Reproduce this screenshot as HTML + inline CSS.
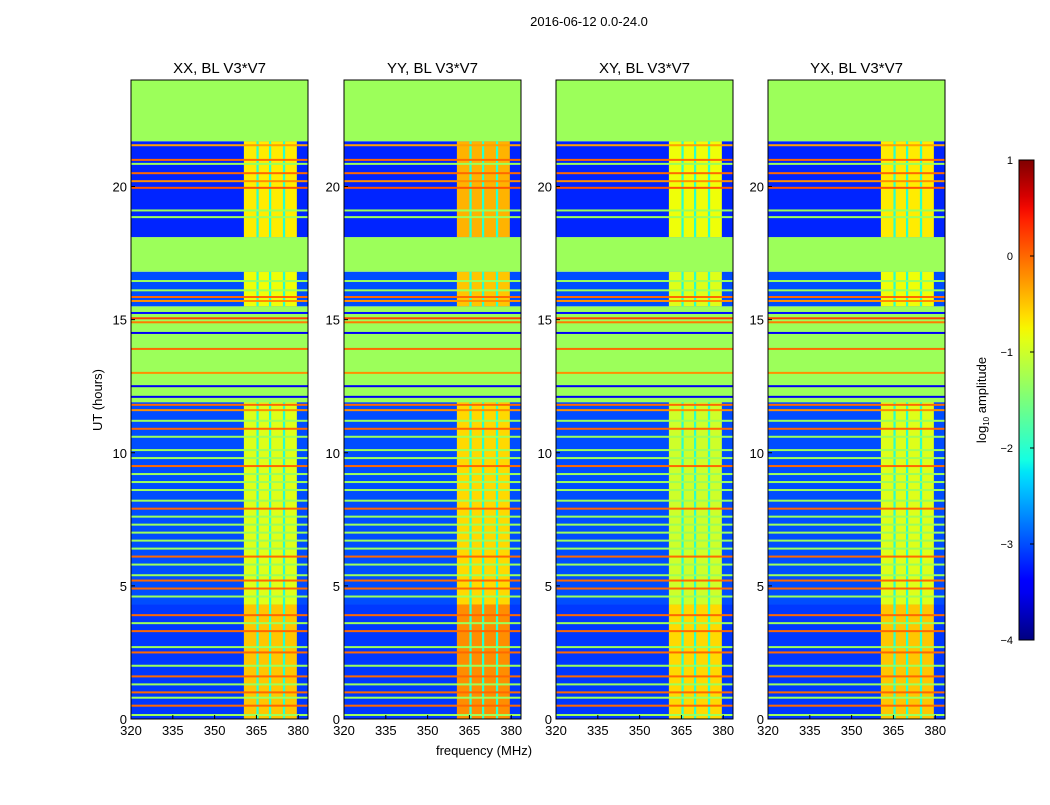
<!DOCTYPE html>
<html><head><meta charset="utf-8"><style>
body{margin:0;background:#fff;font-family:"Liberation Sans",sans-serif;}
svg text{font-family:"Liberation Sans",sans-serif;fill:#000}
</style></head><body>
<svg id="fig" width="1050" height="800" xmlns="http://www.w3.org/2000/svg">
<text x="589" y="26" font-size="13" text-anchor="middle">2016-06-12 0.0-24.0</text>
<text x="484" y="755" font-size="13" text-anchor="middle">frequency (MHz)</text>
<text x="102" y="400" font-size="13" text-anchor="middle" transform="rotate(-90 102 400)">UT (hours)</text>
<g id="panels"></g>
<g id="cbar"></g>
</svg>
<script>
const panelNames = ["XX, BL V3*V7","YY, BL V3*V7","XY, BL V3*V7","YX, BL V3*V7"];
const panelBandGain = [0, 0.3, -0.1, 0];
const xTicks = [320,335,350,365,380];
const yTicks = [0,5,10,15,20];
const cbTicks = [1,0,-1,-2,-3,-4];
const flagValue = -1.3;
// time segments: start hour, end hour, kind, background level, band level
const segStart = [0, 4.3, 11.9, 15.5, 16.8, 18.1, 21.7];
const segEnd   = [4.3, 11.9, 15.5, 16.8, 18.1, 21.7, 24];
const segKind  = ["data","data","flag","data","flag","data","flag"];
const segBg    = [-3.1, -3.0, 0, -3.0, 0, -3.2, 0];
const segBand  = [-0.5, -0.9, 0, -0.8, 0, -0.7, 0];
// horizontal lines: hour, value
const lineHours = [21.55,21.0,20.85,20.5,20.2,19.95,19.1,18.85,16.45,16.1,15.85,15.7,15.25,15.05,14.9,14.5,13.9,13.0,12.5,12.1,
 11.8,11.6,11.2,10.9,10.6,10.1,9.8,9.5,9.2,8.9,8.6,8.2,7.9,7.6,7.3,7.0,6.7,6.4,6.1,5.8,5.4,5.2,4.9,4.6,3.9,3.6,3.3,2.7,2.5,2.0,1.6,1.3,1.0,0.8,0.5,0.15];
const lineValues = [-0.3,0,-1.3,0,-0.2,0.1,-1.3,-1.3,-1.3,-1.3,0,-0.2,-3.3,0.2,-0.1,-3.5,0,-0.2,-3.5,-3.5,
 0,-0.2,-1.3,0,-1.3,-1.3,-1.3,0,-1.3,-1.3,-1.3,-1.3,0,-1.3,-1.3,-1.3,-1.3,-1.3,0,-1.3,-1.3,0,0,-1.3,0,-1.3,0,-1.3,0,-1.3,0,-1.3,0,-1.3,0,-1.3];
// frequency structure (MHz)
const bandLo = 360.5, bandHi = 379.5;
const stripeFreq = [365.0, 369.5, 374.5];
const stripeValue = -2.0;

function interp(pts,t){for(let i=1;i<pts.length;i++){if(t<=pts[i][0]){const a=pts[i-1],b=pts[i];return a[1]+(b[1]-a[1])*(t-a[0])/(b[0]-a[0]);}}return pts[pts.length-1][1];}
const JR=[[0,0],[0.35,0],[0.66,1],[0.89,1],[1,0.5]];
const JG=[[0,0],[0.125,0],[0.375,1],[0.64,1],[0.91,0],[1,0]];
const JB=[[0,0.5],[0.11,1],[0.34,1],[0.65,0],[1,0]];
function jet(v){
  const t=Math.max(0,Math.min(1,(v+4)/5));
  return `rgb(${Math.round(255*interp(JR,t))},${Math.round(255*interp(JG,t))},${Math.round(255*interp(JB,t))})`;
}
const NS="http://www.w3.org/2000/svg";
function el(tag,attrs,parent){const e=document.createElementNS(NS,tag);for(const k in attrs)e.setAttribute(k,attrs[k]);parent.appendChild(e);return e;}
const lefts=[131,344,556,768], topY=80, W=177, H=639;
const fMin=320, fMax=383.5, hMax=24;
const panels=document.getElementById("panels");
panelNames.forEach((name,p)=>{
  const L=lefts[p];
  const xs=f=>L+(f-fMin)/(fMax-fMin)*W;
  const ys=h=>topY+H-(h/hMax)*H;
  const g=el("g",{},panels);
  
  
  const t=el("text",{x:L+W/2,y:topY-7,"font-size":15,"text-anchor":"middle"},g);
  t.textContent=name;
  
  
  segStart.forEach((s,i)=>{
    const y0=ys(segEnd[i]), y1=ys(s);
    if(segKind[i]==="flag"){
      const r=el("rect",{x:L,y:y0,width:W,height:y1-y0,fill:jet(flagValue)},g);
      
      
    } else {
      const r=el("rect",{x:L,y:y0,width:W,height:y1-y0,fill:jet(segBg[i])},g);
      
      
      const b=el("rect",{x:xs(bandLo),y:y0,width:xs(bandHi)-xs(bandLo),height:y1-y0,fill:jet(segBand[i]+panelBandGain[p])},g);
      
      
      stripeFreq.forEach(f=>{
        const st=el("rect",{x:xs(f),y:y0,width:xs(f+0.8)-xs(f),height:y1-y0,fill:jet(stripeValue)},g);
        
        
      });
    }
  });
  lineHours.forEach((h,i)=>{
    const r=el("rect",{x:L,y:ys(h)-1,width:W,height:2,fill:jet(lineValues[i])},g);
    
    
  });
  el("rect",{x:L,y:topY,width:W,height:H,fill:"none",stroke:"#000","stroke-width":1},g);
  xTicks.forEach(f=>{
    const x=xs(f);
    el("line",{x1:x,x2:x,y1:topY+H,y2:topY+H-4,stroke:"#000"},g);
    const tx=el("text",{x:x,y:topY+H+16,"font-size":13,"text-anchor":"middle"},g);
    tx.textContent=f;
    
    
  });
  yTicks.forEach(h=>{
    const y=ys(h);
    el("line",{x1:L,x2:L+4,y1:y,y2:y,stroke:"#000"},g);
    const ty=el("text",{x:L-4,y:y+5,"font-size":13,"text-anchor":"end"},g);
    ty.textContent=h;
    
    
  });
});
// colorbar
const cb=document.getElementById("cbar");
const defs=el("defs",{},cb);
const grad=el("linearGradient",{id:"jetg",x1:0,y1:1,x2:0,y2:0},defs);
for(let i=0;i<=40;i++){el("stop",{offset:i/40,"stop-color":jet(-4+5*i/40)},grad);}
const cbX=1019,cbY=160,cbW=15,cbH=480;
el("rect",{x:cbX,y:cbY,width:cbW,height:cbH,fill:"url(#jetg)",stroke:"#000"},cb);
cbTicks.forEach(v=>{
  const y=cbY+(1-v)/5*cbH;
  el("line",{x1:cbX+cbW-4,x2:cbX+cbW,y1:y,y2:y,stroke:"#000"},cb);
  const t=el("text",{x:cbX-6,y:y+4,"font-size":11,"text-anchor":"end"},cb);
  t.textContent=(v<0?"\u2212"+(-v):v);
  
  
});
const ct=el("text",{x:986,y:400,"font-size":13,"text-anchor":"middle",transform:"rotate(-90 986 400)"},cb);
ct.innerHTML='log<tspan font-size="8" dy="3">10</tspan><tspan dy="-3"> amplitude</tspan>';


</script>
</body></html>
